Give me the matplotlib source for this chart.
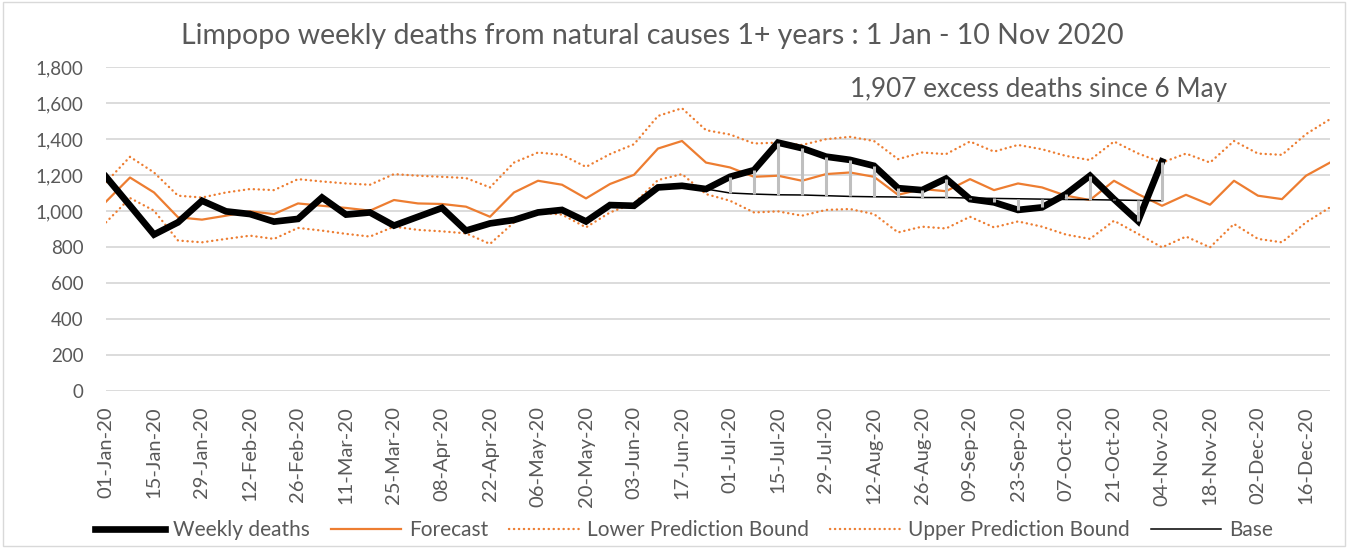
import numpy as np
import pandas as pd
import matplotlib
matplotlib.use("Agg")
import matplotlib.pyplot as plt
from matplotlib.patches import Rectangle

plt.rcParams['font.family'] = ['Lato', 'DejaVu Sans']

# weekly dates, 01-Jan-20 to 23-Dec-20
dates = pd.date_range("2020-01-01", periods=52, freq="7D")
labels = [d.strftime("%d-%b-%y") for d in dates]

weekly = [1190, 1030, 869, 937, 1057, 998, 983, 941, 956, 1075,
          980, 992, 919, 968, 1017, 891, 931, 950, 992, 1006,
          942, 1033, 1029, 1131, 1140, 1122, 1190, 1227, 1380, 1349,
          1302, 1284, 1251, 1127, 1116, 1180, 1066, 1048, 1006, 1020,
          1094, 1196, 1066, 944, 1275]

forecast = [1052, 1186, 1103, 965, 952, 974, 998, 983, 1042, 1029,
            1017, 1002, 1061, 1042, 1039, 1024, 968, 1103, 1168, 1146,
            1070, 1150, 1201, 1347, 1389, 1269, 1242, 1190, 1196, 1168,
            1205, 1214, 1190, 1090, 1122, 1110, 1177, 1116, 1153, 1131,
            1085, 1061, 1168, 1094, 1029, 1090, 1035, 1168, 1085, 1066,
            1196, 1269]

upper = [1160, 1301, 1214, 1085, 1075, 1103, 1122, 1116, 1177, 1164,
         1153, 1146, 1205, 1196, 1190, 1183, 1131, 1269, 1325, 1312,
         1245, 1316, 1371, 1528, 1571, 1449, 1425, 1375, 1380, 1367,
         1399, 1412, 1389, 1288, 1325, 1316, 1386, 1330, 1367, 1343,
         1306, 1283, 1386, 1320, 1269, 1319, 1269, 1389, 1319, 1312,
         1427, 1510]

lower = [937, 1072, 1002, 836, 826, 845, 863, 845, 906, 891,
         873, 858, 913, 895, 887, 876, 817, 937, 992, 980,
         909, 992, 1042, 1172, 1205, 1094, 1057, 992, 998, 974,
         1006, 1011, 983, 881, 913, 903, 968, 909, 942, 913,
         869, 845, 946, 873, 798, 858, 798, 928, 845, 826,
         937, 1020]

# base starts at week 25 (24-Jun-20)
base_start = 25
base = [1122, 1100, 1094, 1090, 1089, 1085, 1081, 1079, 1078, 1075,
        1075, 1072, 1070, 1068, 1066, 1064, 1063, 1061, 1059, 1057]

orange = "#ED7D31"
grey_txt = "#595959"

fig = plt.figure(figsize=(13.56, 5.48), dpi=100)
ax = fig.add_axes([106/1356, 1-391/548, (1330-106)/1356, (391-67)/548])

x = np.arange(len(dates))
xw = x[:len(weekly)]
xb = x[base_start:base_start+len(base)]

ax.plot(x, lower, color=orange, lw=1.7, linestyle=(0, (0.1, 2.0)),
        dash_capstyle="round", label="Lower Prediction Bound", zorder=3)
ax.plot(x, upper, color=orange, lw=1.7, linestyle=(0, (0.1, 2.0)),
        dash_capstyle="round", label="Upper Prediction Bound", zorder=3)
ax.plot(x, forecast, color=orange, lw=1.6, label="Forecast", zorder=4)
ax.plot(xw, weekly, color="black", lw=4.8, solid_joinstyle="miter",
        label="Weekly deaths", zorder=5)
ax.plot(xb, base, color="black", lw=1.1, label="Base", zorder=6)
ax.vlines(xb, base, np.array(weekly)[base_start:], color="#BFBFBF", lw=2.2, zorder=7)

ax.set_xlim(0, len(dates)-1)
ax.set_ylim(0, 1800)
ax.set_yticks(range(0, 1801, 200))
ax.set_yticklabels([f"{v:,}" for v in range(0, 1801, 200)])
ax.set_xticks(x[::2])
ax.set_xticklabels(labels[::2], rotation=90)
ax.tick_params(axis="both", length=0, colors=grey_txt)
ax.tick_params(axis="y", pad=16, labelsize=13.5)
ax.tick_params(axis="x", pad=11, labelsize=14.5)
ax.grid(axis="y", color="#D9D9D9", lw=1.3)
ax.set_axisbelow(True)
for s in ax.spines.values():
    s.set_visible(False)

fig.text(652/1356, 1-36/548, "Limpopo weekly deaths from natural causes 1+ years : 1 Jan - 10 Nov 2020",
         ha="center", va="center", fontsize=20.5, color=grey_txt)
fig.text(1039/1356, 1-90/548, "1,907 excess deaths since 6 May",
         ha="center", va="center", fontsize=18.8, color=grey_txt)

h, l = ax.get_legend_handles_labels()
order = ["Weekly deaths", "Forecast", "Lower Prediction Bound", "Upper Prediction Bound", "Base"]
hd = dict(zip(l, h))
leg = fig.legend([hd[k] for k in order], order, loc="center", bbox_to_anchor=(684/1356, 1-530/548),
                 ncol=5, frameon=False, fontsize=15, handlelength=3.35, handletextpad=0.4,
                 columnspacing=1.0)
for t in leg.get_texts():
    t.set_color(grey_txt)

fig.patches.append(Rectangle((3/1356, 2/548), 1342/1356, 544/548, transform=fig.transFigure,
                             fill=False, edgecolor="#D9D9D9", lw=1.0))

fig.savefig("out.png", dpi=100)
